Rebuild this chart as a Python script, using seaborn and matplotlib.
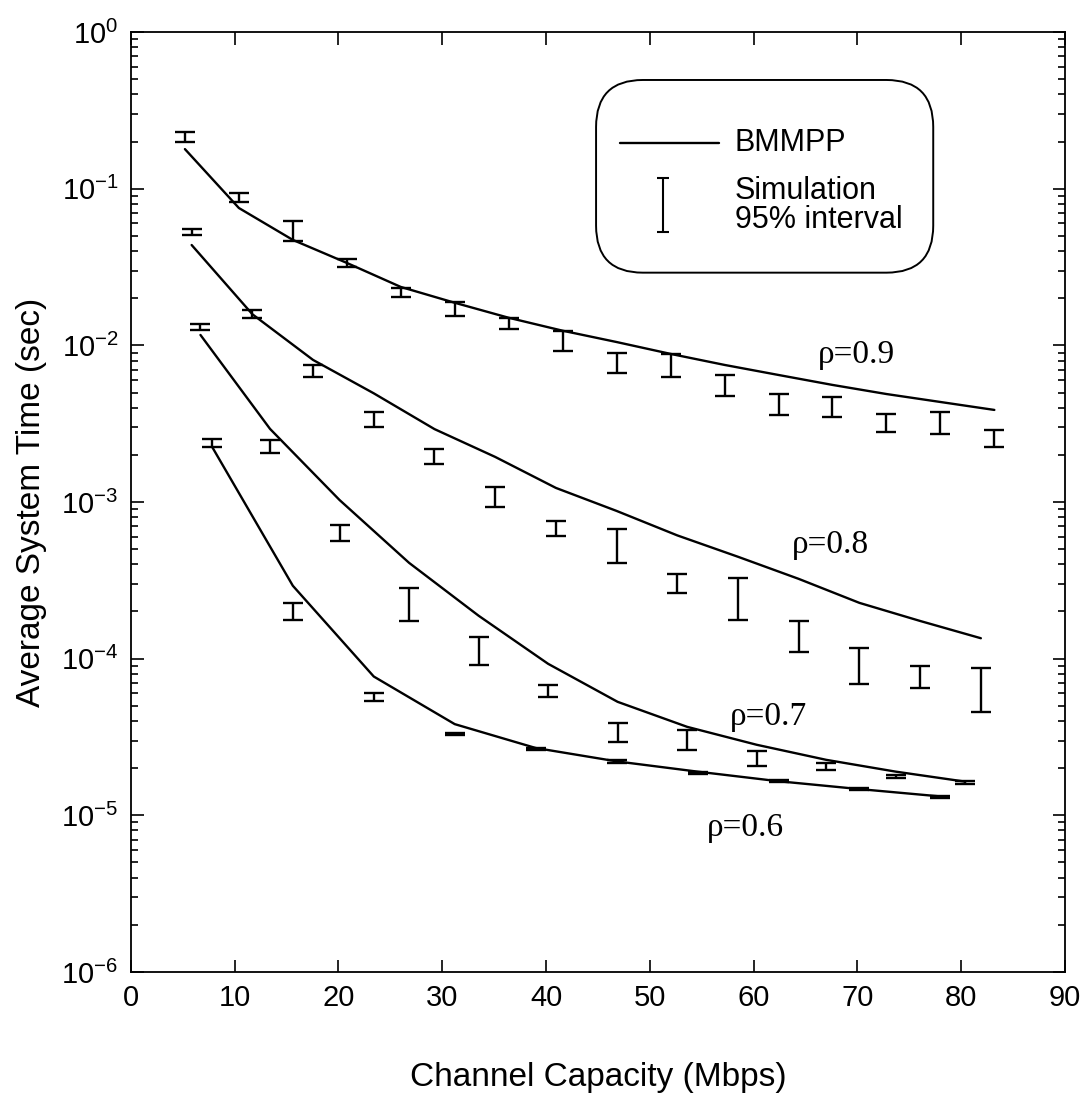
import numpy as np
import pandas as pd
import matplotlib
matplotlib.use("Agg")
import matplotlib.pyplot as plt
import seaborn as sns
from matplotlib.patches import FancyBboxPatch
from matplotlib.ticker import NullFormatter, FixedLocator, LogFormatterSciNotation

# ---------------- data ----------------
x_09 = [5.2, 10.4, 15.6, 20.8, 26.0, 31.2, 36.4, 41.6, 46.8, 52.0, 57.2, 62.4, 67.6, 72.8, 78.0, 83.2]
model_09 = [0.179, 0.0753, 0.0471, 0.0336, 0.0236, 0.0187, 0.0150, 0.0124, 0.0105, 0.00882,
            0.00750, 0.00647, 0.00559, 0.00489, 0.00435, 0.00387]
sim_lo_09 = [0.200, 0.0819, 0.0466, 0.0315, 0.0203, 0.0154, 0.0128, 0.00925, 0.00670, 0.00626,
             0.00478, 0.00360, 0.00351, 0.00281, 0.00271, 0.00226]
sim_hi_09 = [0.229, 0.0943, 0.0622, 0.0356, 0.0231, 0.0190, 0.0150, 0.0124, 0.00898, 0.00881,
             0.00647, 0.00488, 0.00471, 0.00363, 0.00378, 0.00288]

x_08 = [5.85, 11.7, 17.55, 23.4, 29.25, 35.1, 40.95, 46.8, 52.65, 58.5, 64.35, 70.2, 76.05, 81.9]
model_08 = [0.0437, 0.0158, 0.00807, 0.00494, 0.00292, 0.00194, 0.00123, 0.000877, 0.000612,
            0.000447, 0.000323, 0.000227, 0.000174, 0.000135]
sim_lo_08 = [0.0507, 0.0149, 0.00626, 0.00303, 0.00175, 0.000926, 0.000608, 0.000410, 0.000262,
             0.000177, 0.000111, 0.0000690, 0.0000648, 0.0000456]
sim_hi_08 = [0.0553, 0.0167, 0.00750, 0.00378, 0.00217, 0.00125, 0.000757, 0.000670, 0.000348,
             0.000327, 0.000173, 0.000117, 0.0000899, 0.0000869]

x_07 = [6.7, 13.4, 20.1, 26.8, 33.5, 40.2, 46.9, 53.6, 60.3, 67.0, 73.7, 80.4]
model_07 = [0.01165, 0.00293, 0.00103, 0.000409, 0.000188, 0.0000927, 0.0000530, 0.0000367,
            0.0000282, 0.0000226, 0.0000190, 0.0000164]
sim_lo_07 = [0.01254, 0.00207, 0.000565, 0.000174, 0.0000912, 0.0000568, 0.0000292, 0.0000262,
             0.0000207, 0.0000195, 0.0000173, 0.0000159]
sim_hi_07 = [0.01370, 0.00247, 0.000714, 0.000284, 0.0001365, 0.0000681, 0.0000391, 0.0000351,
             0.0000259, 0.0000217, 0.0000180, 0.0000166]

x_06 = [7.8, 15.6, 23.4, 31.2, 39.0, 46.8, 54.6, 62.4, 70.2, 78.0]
model_06 = [0.00226, 0.000292, 0.0000769, 0.0000382, 0.0000269, 0.0000221, 0.0000190, 0.0000165,
            0.0000147, 0.0000132]
sim_lo_06 = [0.00224, 0.000177, 0.0000533, 0.0000326, 0.0000260, 0.0000216, 0.0000184, 0.0000164,
             0.0000146, 0.0000129]
sim_hi_06 = [0.00252, 0.000226, 0.0000608, 0.0000336, 0.0000270, 0.0000226, 0.0000190, 0.0000169,
             0.0000150, 0.0000133]

rho_labels = ["\u03c1=0.9", "\u03c1=0.8", "\u03c1=0.7", "\u03c1=0.6"]
label_x = [69.9, 67.4, 61.4, 59.2]
label_y = [0.00868, 0.000532, 0.0000426, 0.0000083]

x_ticks = [0, 10, 20, 30, 40, 50, 60, 70, 80, 90]
y_decades = [-6, -5, -4, -3, -2, -1, 0]
legend_labels = ["BMMPP", "Simulation", "95% interval"]
x_title = "Channel Capacity (Mbps)"
y_title = "Average System Time (sec)"

# ---------------- style ----------------
sns.set_style("ticks")
plt.rcParams["font.family"] = ["Liberation Sans", "DejaVu Sans"]
plt.rcParams["axes.linewidth"] = 1.3
plt.rcParams["axes.unicode_minus"] = False
for k in ["text.color", "axes.labelcolor", "xtick.color", "ytick.color", "axes.edgecolor"]:
    plt.rcParams[k] = "black"

fig = plt.figure(figsize=(10.84, 11.05), dpi=100)
ax = fig.add_axes([0.1208, 0.1204, 0.8616, 0.8506])

series = [(0.9, x_09, model_09, sim_lo_09, sim_hi_09),
          (0.8, x_08, model_08, sim_lo_08, sim_hi_08),
          (0.7, x_07, model_07, sim_lo_07, sim_hi_07),
          (0.6, x_06, model_06, sim_lo_06, sim_hi_06)]

rows = []
for rho, xs, ms, _, _ in series:
    for xv, mv in zip(xs, ms):
        rows.append({"rho": rho, "capacity": xv, "time": mv})
df = pd.DataFrame(rows)

sns.lineplot(data=df, x="capacity", y="time", units="rho", estimator=None,
             color="black", lw=1.7, ax=ax, legend=False)

for rho, xs, ms, lo, hi in series:
    lo = np.array(lo)
    hi = np.array(hi)
    mid = np.sqrt(lo * hi)
    ax.errorbar(xs, mid, yerr=[mid - lo, hi - mid], fmt="none", ecolor="black",
                elinewidth=1.7, capsize=7.5, capthick=1.7)

for t, xv, yv in zip(rho_labels, label_x, label_y):
    ax.text(xv, yv, t, ha="center", va="center", fontsize=24,
            family=["Liberation Serif", "DejaVu Serif"])

ax.set_yscale("log")
ax.set_xlim(0, 90)
ax.set_ylim(1e-6, 1)
ax.xaxis.set_major_locator(FixedLocator(x_ticks))
major_y = [10.0 ** d for d in y_decades]
minor_y = [m * 10.0 ** d for d in y_decades[:-1] for m in range(2, 10)]
ax.yaxis.set_major_locator(FixedLocator(major_y))
ax.yaxis.set_major_formatter(LogFormatterSciNotation(base=10))
ax.yaxis.set_minor_locator(FixedLocator(minor_y))
ax.yaxis.set_minor_formatter(NullFormatter())
ax.tick_params(which="both", direction="in", top=True, right=True, color="black")
ax.tick_params(which="major", length=9, width=1.2, labelsize=21, pad=9)
ax.tick_params(which="minor", length=5, width=1.2)
for s in ax.spines.values():
    s.set_visible(True)
    s.set_color("black")

ax.set_xlabel(x_title, fontsize=24, labelpad=36)
ax.set_ylabel(y_title, fontsize=24, labelpad=10)

# legend box (drawn by hand, rounded like the original)
box = FancyBboxPatch((0.498, 0.744), 0.361, 0.205,
                     boxstyle="round,pad=0,rounding_size=0.05",
                     transform=ax.transAxes, fill=False, lw=1.4, ec="black")
ax.add_patch(box)
ax.plot([0.5236, 0.6296], [0.882, 0.882], color="black", lw=1.7, transform=ax.transAxes)
ax.errorbar([0.5696], [0.816], yerr=[[0.029], [0.029]], fmt="none", ecolor="black",
            elinewidth=1.5, capsize=4, capthick=1.5, transform=ax.transAxes)
ax.text(0.6467, 0.882, legend_labels[0], transform=ax.transAxes, va="center", ha="left", fontsize=22)
ax.text(0.6467, 0.831, legend_labels[1], transform=ax.transAxes, va="center", ha="left", fontsize=22)
ax.text(0.6467, 0.800, legend_labels[2], transform=ax.transAxes, va="center", ha="left", fontsize=22)

fig.savefig("out.png", dpi=100, facecolor="white")
